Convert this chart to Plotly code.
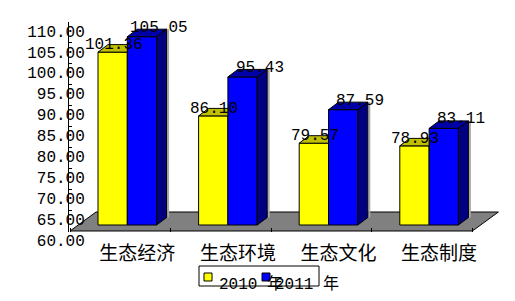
import plotly.graph_objects as go

# ---------------- data ----------------
categories = ["生态经济", "生态环境", "生态文化", "生态制度"]
series_names = ["2010 年", "2011 年"]
values_2010 = [101.36, 86.10, 79.57, 78.93]
values_2011 = [105.05, 95.43, 87.59, 83.11]
y_ticks = [60, 65, 70, 75, 80, 85, 90, 95, 100, 105, 110]

# ---------------- styling / geometry ----------------
W, H = 515, 301
PX_L, PX_R, PX_T, PX_B = 69, 500, 22, 232      # plot area in px
CAT_PX = 100.6                                  # px per category slot
Y_SCALE = 4.18                                  # px per value unit
Y_LO, Y_HI = 60, 110

X_MIN = -0.5 - 1.0 / CAT_PX
X_MAX = X_MIN + (PX_R - PX_L) / CAT_PX
Y_MIN = Y_LO - (PX_B - (PX_T + (Y_HI - Y_LO) * Y_SCALE)) / Y_SCALE
ux = 1.0 / CAT_PX
uy = 1.0 / Y_SCALE

FLOOR_DEPTH = (26, 19)
BAR_PLANE = (7, 6)
BAR_DEPTH = (10, 7.5)
BAR_W = 29.3
SHADOW_PX = 1.5

front_cols = ["#FFFF00", "#0000FF"]
top_cols = ["#C0C000", "#0000A8"]
side_cols = ["#A0A000", "#000080"]
label_off = [(1, 7), (17, 9)]

NUM_FONT = "Liberation Mono, Noto Sans CJK SC, monospace"
CJK_FONT = "Noto Sans CJK SC, sans-serif"

series = [values_2010, values_2011]
n = len(categories)
ns = len(series)

fig = go.Figure()

# floor (layout shape drawn below all traces)
fx0, fx1 = -0.5, n - 0.5
fdx, fdy = FLOOR_DEPTH[0] * ux, FLOOR_DEPTH[1] * uy
fpts = [(fx0, Y_LO), (fx1, Y_LO), (fx1 + fdx, Y_LO + fdy), (fx0 + fdx, Y_LO + fdy)]
fpath = "M " + " L ".join(f"{x},{y}" for x, y in fpts) + " Z"
fig.add_shape(type="path", xref="x", yref="y", path=fpath, layer="below",
              fillcolor="#808080", line=dict(color="black", width=1))

bdx, bdy = BAR_DEPTH[0] * ux, BAR_DEPTH[1] * uy
pdx, pdy = BAR_PLANE[0] * ux, BAR_PLANE[1] * uy
bw = BAR_W * ux
base = Y_LO + pdy

for s, vals in enumerate(series):
    centers = [i + pdx + (s - 0.5) * bw for i in range(n)]
    sx, sy, tx, ty, hx, hy = [], [], [], [], [], []
    for i, (c, v) in enumerate(zip(centers, vals)):
        xl, xr = c - bw / 2, c + bw / 2
        t = v - Y_LO + base
        # right neighbour bar (next series) taller -> it hides this side face
        hidden = s < ns - 1 and series[s + 1][i] >= v
        if hidden:
            tx += [xl, xr, xr, xl + bdx, xl, None]
            ty += [t, t, t + bdy, t + bdy, t, None]
        else:
            sx += [xr, xr, xr + bdx, xr + bdx, xr, None]
            sy += [base, t, t + bdy, base + bdy, base, None]
            tx += [xl, xr, xr + bdx, xl + bdx, xl, None]
            ty += [t, t, t + bdy, t + bdy, t, None]
            xs = xr + bdx + SHADOW_PX * ux
            hx += [xs, xs, None]
            hy += [base + bdy, t + bdy, None]
    if hx:
        fig.add_trace(go.Scatter(x=hx, y=hy, mode="lines",
                                 line=dict(color="#A8A8A8", width=2),
                                 hoverinfo="skip", showlegend=False))
    if sx:
        fig.add_trace(go.Scatter(x=sx, y=sy, fill="toself", fillcolor=side_cols[s],
                                 mode="lines", line=dict(color="black", width=1),
                                 hoverinfo="skip", showlegend=False))
    fig.add_trace(go.Scatter(x=tx, y=ty, fill="toself", fillcolor=top_cols[s],
                             mode="lines", line=dict(color="black", width=1),
                             hoverinfo="skip", showlegend=False))

for s, vals in enumerate(series):
    centers = [i + pdx + (s - 0.5) * bw for i in range(n)]
    fig.add_trace(go.Bar(
        x=centers, y=[v - Y_LO for v in vals], base=[base] * n, width=bw,
        name=series_names[s],
        marker=dict(color=front_cols[s], line=dict(color="black", width=1)),
        showlegend=False))
    for c, v in zip(centers, vals):
        fig.add_annotation(
            x=c, y=v - Y_LO + base, xref="x", yref="y", text=f"{v:.2f}",
            showarrow=False, xanchor="center", yanchor="middle",
            xshift=label_off[s][0], yshift=label_off[s][1],
            font=dict(family=NUM_FONT, size=16, color="black"))

# custom legend (box, swatches, labels)
LEG_BOX = (199, 266, 319, 286)
LEG_SW = [(204, 273), (262, 273)]
LEG_TXT = [217, 273]
px2x = lambda p: p / W
px2y = lambda p: 1 - p / H
fig.add_shape(type="rect", xref="paper", yref="paper",
              x0=px2x(LEG_BOX[0]), x1=px2x(LEG_BOX[2]),
              y0=px2y(LEG_BOX[3]), y1=px2y(LEG_BOX[1]),
              line=dict(color="black", width=1), fillcolor="white", layer="below")
for s in range(ns):
    sx0, sy0 = LEG_SW[s]
    fig.add_shape(type="rect", xref="paper", yref="paper",
                  x0=px2x(sx0), x1=px2x(sx0 + 8), y0=px2y(sy0 + 8), y1=px2y(sy0),
                  line=dict(color="black", width=1), fillcolor=front_cols[s])
    fig.add_annotation(x=px2x(LEG_TXT[s]), y=px2y(284), xref="paper", yref="paper",
                       text=series_names[s], showarrow=False,
                       xanchor="left", yanchor="middle",
                       font=dict(family=NUM_FONT, size=16, color="black"))

fig.update_layout(
    width=W, height=H, template="none",
    margin=dict(l=0, r=0, t=0, b=0, pad=0),
    paper_bgcolor="white", plot_bgcolor="white",
    barmode="overlay", showlegend=False,
    font=dict(family=NUM_FONT, color="black"),
    xaxis=dict(
        domain=[PX_L / W, PX_R / W], range=[X_MIN, X_MAX],
        tickmode="array", tickvals=list(range(n)), ticktext=categories,
        ticks="", showline=False, showgrid=False, zeroline=False,
        ticklabelshift=17, ticklabelstandoff=8,
        tickfont=dict(family=CJK_FONT, size=19, color="black"),
        minor=dict(tickmode="array", tickvals=[i - 0.5 for i in range(n + 1)],
                   ticks="inside", ticklen=4, tickcolor="black", tickwidth=1,
                   showgrid=False),
        automargin=False, fixedrange=True),
    yaxis=dict(
        domain=[1 - PX_B / H, 1 - PX_T / H], range=[Y_MIN, Y_HI],
        tickmode="array", tickvals=y_ticks, tickformat=".2f",
        ticks="inside", ticklen=3, tickcolor="black", tickwidth=1,
        showline=True, linecolor="black", linewidth=1,
        showgrid=False, zeroline=False,
        ticklabelshift=9, ticklabelstandoff=-20,
        tickfont=dict(family=NUM_FONT, size=16, color="black"),
        automargin=False, fixedrange=True),
)

fig.write_html("out.html")
